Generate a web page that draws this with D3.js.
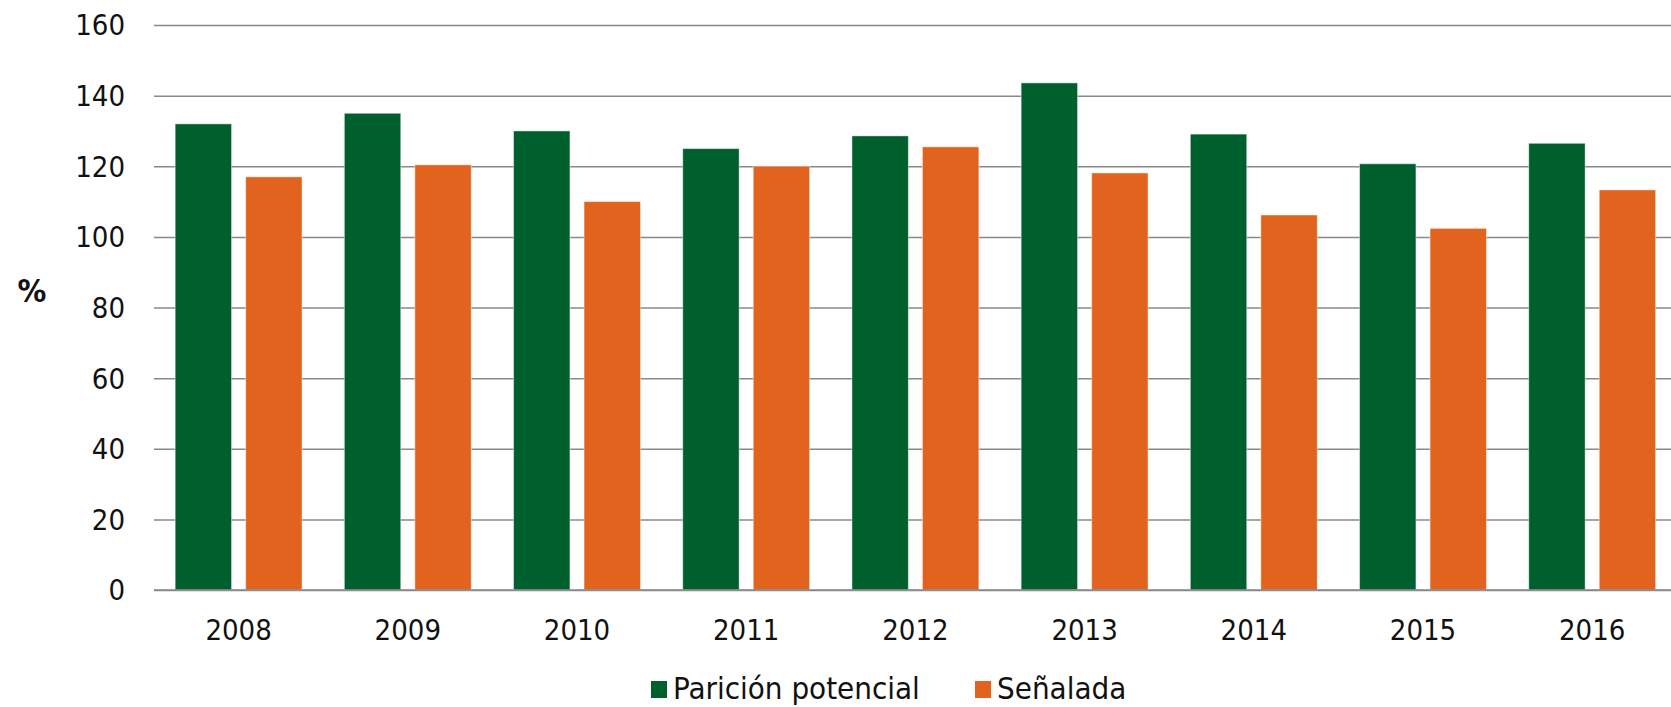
<!DOCTYPE html>
<html>
<head>
<meta charset="utf-8">
<script src="https://cdn.jsdelivr.net/npm/d3@7/dist/d3.min.js"></script>
<style>
	body { margin: 0; background: #fff; }
	svg { display: block; font-family: "DejaVu Sans Condensed", "DejaVu Sans", sans-serif; fill: #111; }
	.grid line { stroke: #898989; stroke-width: 1.5; }
	.grid path { display: none; }
</style>
</head>
<body>
<div id="chart"></div>
<script>

// Data
var years = ["2008", "2009", "2010", "2011", "2012", "2013", "2014", "2015", "2016"];
var seriesNames = ["Parición potencial", "Señalada"];
var paricion = [132, 135, 130, 125, 128.6, 143.6, 129.1, 120.7, 126.5];
var senalada = [117, 120.4, 110, 120, 125.5, 118.1, 106.2, 102.4, 113.3];
var yTicks = [0, 20, 40, 60, 80, 100, 120, 140, 160];
var colors = ["#00602d", "#e2631e"];

var width = 1671,
	height = 707;

var margin = { top: 25, left: 154, bottom: 117 };

// build rows for the grouped bars
var rows = years.map(function(y, i) {
	return { year: y, values: [paricion[i], senalada[i]] };
});

var svg = d3.select("#chart").append("svg")
	.attr("width", width)
	.attr("height", height);

// Scales
var yScale = d3.scaleLinear()
	.domain([0, 160])
	.range([height - margin.bottom, margin.top]);

// plot runs a bit past the right edge, as in the original
var xScale = d3.scaleBand()
	.domain(years)
	.range([margin.left, margin.left + 169.2 * years.length]);

var xInner = d3.scaleBand()
	.domain([0, 1])
	.range([0, xScale.bandwidth()])
	.paddingInner(0.2)
	.paddingOuter(0.3);

// Gridlines
svg.append("g")
	.attr("class", "grid")
	.attr("transform", "translate(" + margin.left + ",0)")
	.call(d3.axisLeft(yScale)
		.tickValues(yTicks)
		.tickSize(-(width - margin.left))
		.tickFormat(""));

// Bars
var groups = svg.selectAll(".year")
	.data(rows)
	.enter()
	.append("g")
	.attr("class", "year")
	.attr("transform", function(d) { return "translate(" + xScale(d.year) + ",0)"; });

groups.selectAll("rect")
	.data(function(d) { return d.values; })
	.enter()
	.append("rect")
	.attr("x", function(d, i) { return xInner(i); })
	.attr("y", function(d) { return yScale(d); })
	.attr("width", xInner.bandwidth())
	.attr("height", function(d) { return yScale(0) - yScale(d); })
	.attr("fill", function(d, i) { return colors[i]; })
	.attr("stroke", "#ffffff")
	.attr("stroke-opacity", 0.45)
	.attr("stroke-width", 1);

// baseline on top of the bars
svg.append("line")
	.attr("x1", margin.left)
	.attr("x2", width)
	.attr("y1", yScale(0))
	.attr("y2", yScale(0))
	.attr("stroke", "#898989")
	.attr("stroke-width", 1.5);

// Y tick labels
svg.selectAll(".ylabel")
	.data(yTicks)
	.enter()
	.append("text")
	.attr("class", "ylabel")
	.attr("x", 125)
	.attr("y", function(d) { return yScale(d); })
	.attr("dy", "0.36em")
	.attr("text-anchor", "end")
	.style("font-size", "29px")
	.text(function(d) { return d; });

// X labels
svg.selectAll(".xlabel")
	.data(years)
	.enter()
	.append("text")
	.attr("class", "xlabel")
	.attr("x", function(d) { return xScale(d) + xScale.bandwidth() / 2; })
	.attr("y", 640)
	.attr("text-anchor", "middle")
	.style("font-size", "29px")
	.text(function(d) { return d; });

// Axis title
svg.append("text")
	.attr("x", 32)
	.attr("y", 290)
	.attr("dy", "0.36em")
	.attr("text-anchor", "middle")
	.style("font-size", "32px")
	.style("font-weight", "bold")
	.text("%");

// Legend
var legendX = [651, 975];
var legend = svg.selectAll(".legend")
	.data(seriesNames)
	.enter()
	.append("g")
	.attr("class", "legend")
	.attr("transform", function(d, i) { return "translate(" + legendX[i] + ",0)"; });

legend.append("rect")
	.attr("x", 0)
	.attr("y", 681)
	.attr("width", 16)
	.attr("height", 17)
	.attr("fill", function(d, i) { return colors[i]; });

legend.append("text")
	.attr("x", 22)
	.attr("y", 699)
	.style("font-size", "31px")
	.text(function(d) { return d; });

</script>
</body>
</html>
